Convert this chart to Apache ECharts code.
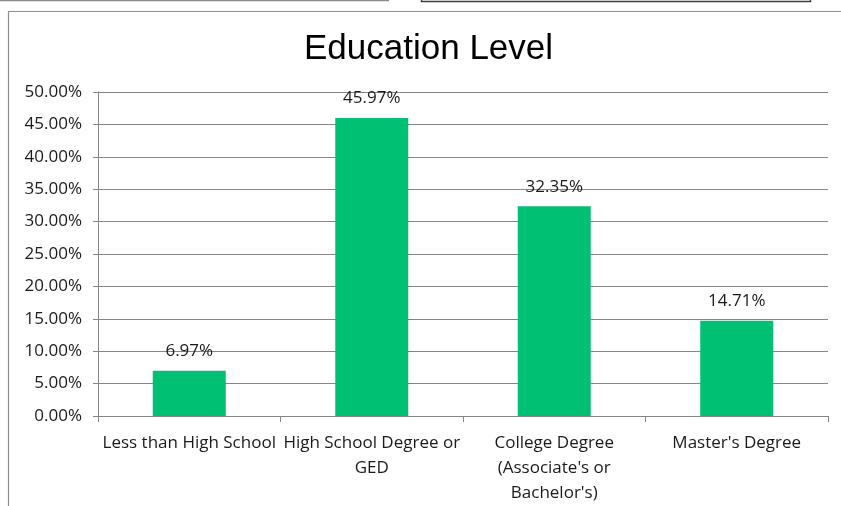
<!DOCTYPE html>
<html>
<head>
<meta charset="utf-8">
<script src="https://cdn.jsdelivr.net/npm/echarts@6/dist/echarts.min.js"></script>
<style>
  html, body { margin: 0; padding: 0; background: #fff; }
  #chart { width: 841px; height: 506px; }
</style>
</head>
<body>
<div id="chart"></div>
<script>
// Share of respondents by highest education level
const categories = [
  "Less than High School",
  "High School Degree or\nGED",
  "College Degree\n(Associate's or\nBachelor's)",
  "Master's Degree"
];
const shares = [6.97, 45.97, 32.35, 14.71];
const yTicks = { min: 0, max: 50, step: 5 };

const FONT = '"Open Sans", Lato, sans-serif';
const TITLE_FONT = '"Liberation Sans", Arial, sans-serif';
const LABEL_SIZE = 17;
const chart = echarts.init(document.getElementById('chart'), null, { renderer: 'canvas' });

chart.setOption({
  animation: false,
  backgroundColor: '#ffffff',
  textStyle: { fontFamily: FONT },
  title: {
    text: 'Education Level',
    left: 299,
    top: 27,
    textStyle: { fontFamily: TITLE_FONT, fontSize: 35, fontWeight: 'normal', color: '#000' }
  },
  grid: { left: 98, right: 13, top: 92, bottom: 89, containLabel: false },
  xAxis: {
    type: 'category',
    data: categories,
    axisLine: { lineStyle: { color: '#868686', width: 1 } },
    axisTick: { show: true, length: 6, alignWithLabel: false, lineStyle: { color: '#868686' } },
    axisLabel: {
      interval: 0,
      margin: 15,
      color: '#1a1a1a',
      fontFamily: FONT,
      fontSize: LABEL_SIZE,
      lineHeight: 25
    }
  },
  yAxis: {
    type: 'value',
    min: yTicks.min,
    max: yTicks.max,
    interval: yTicks.step,
    axisLine: { show: true, lineStyle: { color: '#868686', width: 1 } },
    axisTick: { show: true, length: 5, lineStyle: { color: '#868686' } },
    splitLine: { show: true, lineStyle: { color: '#868686', width: 1 } },
    axisLabel: {
      margin: 16,
      color: '#1a1a1a',
      fontFamily: FONT,
      fontSize: LABEL_SIZE,
      formatter: v => v.toFixed(2) + '%'
    }
  },
  series: [{
    type: 'bar',
    data: shares,
    barWidth: '40%',
    itemStyle: { color: '#00c073' },
    label: {
      show: true,
      position: 'top',
      distance: 11,
      color: '#1a1a1a',
      fontFamily: FONT,
      fontSize: LABEL_SIZE,
      formatter: p => p.value.toFixed(2) + '%'
    }
  }],
  graphic: [
    // page rules above the chart frame
    { type: 'line', shape: { x1: 0, y1: 0.5, x2: 389, y2: 0.5 }, style: { stroke: '#8c8c8c', lineWidth: 1.5 } },
    { type: 'polyline', shape: { points: [[421.5, 0], [421.5, 1.5], [810.5, 1.5], [810.5, 0]] }, style: { stroke: '#3f3f3f', lineWidth: 1.5, fill: null } },
    // chart frame
    { type: 'polyline', shape: { points: [[8.5, 506], [8.5, 11.5], [841, 11.5]] }, style: { stroke: '#8c8c8c', lineWidth: 1.2, fill: null } }
  ]
});
</script>
</body>
</html>
